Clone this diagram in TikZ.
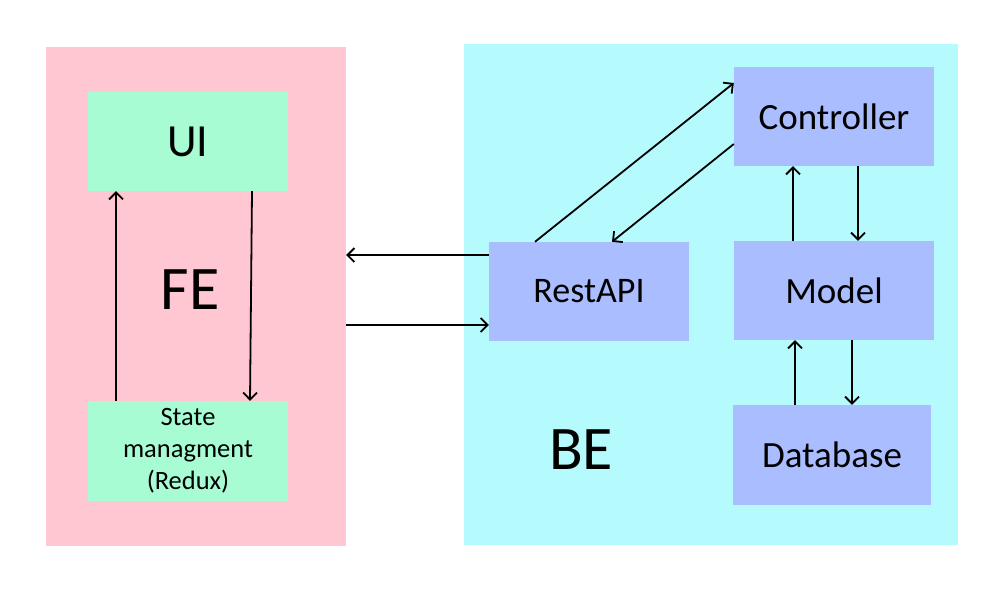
\documentclass[tikz,border=0pt]{standalone}
\usepackage{fontspec}
\setmainfont{Carlito}
\usetikzlibrary{arrows.meta}
\definecolor{fepink}{RGB}{255,199,210}
\definecolor{becyan}{RGB}{181,250,253}
\definecolor{fegreen}{RGB}{168,252,212}
\definecolor{beblue}{RGB}{170,190,255}

\begin{document}
\begin{tikzpicture}[x=1pt, y=-1pt,
  every node/.style={inner sep=0pt, font=\fontsize{37}{43}\selectfont},
  febox/.style={fill=fegreen, minimum width=200pt, minimum height=99pt},
  bebox/.style={fill=beblue, minimum width=200pt, minimum height=99pt},
  link/.style={-{Straight Barb[length=7pt,width=14pt]}, line width=1.8pt}]
  \useasboundingbox (0,0) rectangle (1000,600);
  % the two areas
  \node[fill=fepink, minimum width=300pt, minimum height=499pt] (fe) at (196,296.5) {};
  \node[fill=becyan, minimum width=494pt, minimum height=501pt] (be) at (711,294.5) {};
  \node[font=\fontsize{62}{70}\selectfont] (felabel) at (190,290) {FE};
  \node[font=\fontsize{62}{70}\selectfont] (belabel) at (581,450) {BE};
  % front end
  \node[febox, font=\fontsize{46}{50}\selectfont] (ui) at (188,141.5) {UI};
  \node[febox, minimum height=100pt, align=center, font=\fontsize{26.5}{32}\selectfont] (state) at (188,451) {State\\managment\\(Redux)};
  % back end
  \node[bebox] (ctrl) at (834,116.5) {Controller};
  \node[bebox, font=\fontsize{36}{43}\selectfont] (rest) at (589,291.5) {RestAPI};
  \node[bebox] (model) at (834,290.5) {Model};
  \node[bebox, minimum width=198pt, minimum height=100pt] (db) at (832,455) {Database};
  % Draw the links
  \draw[link] ([xshift=-72pt]state.north) -- ([xshift=-72pt]ui.south);
  \draw[link] ([xshift=64pt]ui.south) -- ([xshift=62pt]state.north);
  \draw[link] (rest.west) ++(0,-36.5) coordinate (a1) -- (a1 -| fe.east);
  \draw[link] (rest.west) ++(0,33.5) coordinate (a2) (a2 -| fe.east) -- (a2);
  \draw[link] ([xshift=-54pt]rest.north) -- ([yshift=33.5pt]ctrl.west);
  \draw[link] ([yshift=-27.5pt]ctrl.west) -- ([xshift=23pt]rest.north);
  \draw[link] ([xshift=-41pt]model.north) -- ([xshift=-41pt]ctrl.south);
  \draw[link] ([xshift=24pt]ctrl.south) -- ([xshift=24pt]model.north);
  \draw[link] ([xshift=-37pt]db.north) -- ([xshift=-39pt]model.south);
  \draw[link] ([xshift=18pt]model.south) -- ([xshift=20pt]db.north);
\end{tikzpicture}
\end{document}
